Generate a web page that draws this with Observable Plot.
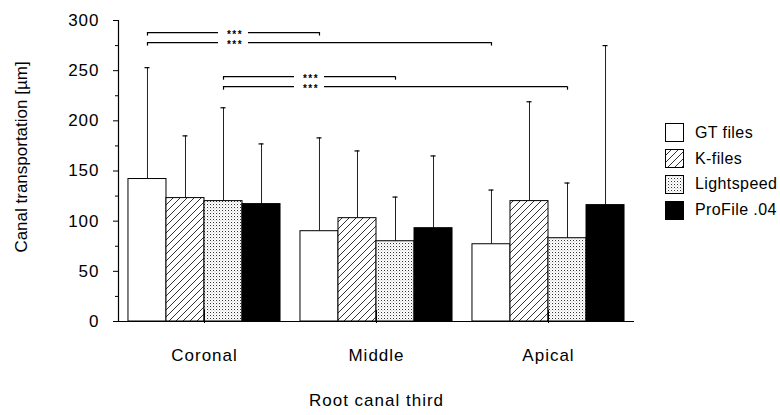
<!DOCTYPE html>
<html><head><meta charset="utf-8">
<script src="https://cdn.jsdelivr.net/npm/d3@7"></script>
<script src="https://cdn.jsdelivr.net/npm/@observablehq/plot@0.6"></script>
<style>
body{margin:0;background:#fff;font-family:"Liberation Sans",Arial,Helvetica,sans-serif}
#wrap{position:relative;width:780px;height:415px;overflow:hidden}
#legend{position:absolute;left:665px;top:120px;font-size:16px;letter-spacing:0.4px;color:#000}
.row{display:flex;align-items:center;height:25.8px}
.row svg{margin-right:11px;display:block}
#wrap svg [aria-label="x-axis tick label"],
#wrap svg [aria-label="x-axis label"],
#wrap svg [aria-label="y-axis tick label"]{letter-spacing:1px}
#wrap svg g[aria-label="text"][font-size="10"]{letter-spacing:1.5px}
</style></head><body><div id="wrap"></div>
<script>
// ---- data ----
const groups = ["Coronal", "Middle", "Apical"];
const series = ["GT files", "K-files", "Lightspeed", "ProFile .04"];
const gtMean = [142, 90, 77];
const kMean = [123, 103, 120];
const lsMean = [120, 80, 83];
const pfMean = [117, 93, 116];
const gtSD = [111, 93, 54];
const kSD = [62, 67, 99];
const lsSD = [93, 44, 55];
const pfSD = [60, 72, 159];
const yTicks = [0, 50, 100, 150, 200, 250, 300];
const yMinorTicks = [25, 75, 125, 175, 225, 275];
const bracketSeries = ["GT files", "GT files", "Lightspeed", "Lightspeed"];
const bracketFrom = ["Coronal", "Coronal", "Coronal", "Coronal"];
const bracketTo = ["Middle", "Apical", "Middle", "Apical"];
const bracketLevel = [288, 278, 244, 234];
const bracketLabel = ["***", "***", "***", "***"];
const yTitle = "Canal transportation [µm]";
const xTitle = "Root canal third";

const fills = ["white", "url(#hatch)", "url(#dots)", "black"];
const W = 0.221; // bar width as a fraction of group step
const xDomain = [-0.5, 2.5];
const means = [gtMean, kMean, lsMean, pfMean];
const sds = [gtSD, kSD, lsSD, pfSD];

const off = si => (si - 1.5) * W;
const rows = [];
groups.forEach((g, gi) => series.forEach((s, si) => rows.push({
  group: g, series: s, mean: means[si][gi], sd: sds[si][gi], cx: gi + off(si)
})));
const brackets = bracketSeries.map((s, i) => {
  const si = series.indexOf(s), a = groups.indexOf(bracketFrom[i]), b = groups.indexOf(bracketTo[i]);
  return {x1: a + off(si), x2: b + off(si), xm: a + 0.5 + off(si), level: bracketLevel[i], label: bracketLabel[i]};
});
const bracketEnds = brackets.flatMap(b => [{x: b.x1, level: b.level}, {x: b.x2, level: b.level}]);

const defs = () => {
  const s = d3.create("svg:defs");
  const h = s.append("pattern").attr("id", "hatch").attr("patternUnits", "userSpaceOnUse")
    .attr("width", 7).attr("height", 7);
  h.append("rect").attr("width", 7).attr("height", 7).attr("fill", "white");
  h.append("path").attr("d", "M-1,8 L8,-1 M-4,4 L4,-4 M3,11 L11,3").attr("stroke", "black").attr("stroke-width", 0.8);
  const p = s.append("pattern").attr("id", "dots").attr("patternUnits", "userSpaceOnUse")
    .attr("width", 3).attr("height", 3);
  p.append("rect").attr("width", 3).attr("height", 3).attr("fill", "white");
  p.append("rect").attr("x", 0).attr("y", 0).attr("width", 1).attr("height", 1).attr("fill", "#333");
  p.append("rect").attr("x", 1.5).attr("y", 1.5).attr("width", 0.8).attr("height", 0.8).attr("fill", "#888");
  return s.node();
};

const chart = Plot.plot({
  width: 780, height: 415,
  marginLeft: 118, marginRight: 146, marginTop: 20, marginBottom: 94,
  style: {fontFamily: '"Liberation Sans", Arial, Helvetica, sans-serif', fontSize: "17px", color: "black", background: "white"},
  x: {domain: xDomain},
  y: {domain: [0, 300]},
  color: {type: "ordinal", domain: series, range: fills},
  marks: [
    defs,
    Plot.ruleX(rows, {x: "cx", y1: "mean", y2: d => d.mean + d.sd, stroke: "#222", strokeWidth: 1}),
    Plot.ruleY(rows, {x1: "cx", x2: "cx", y: d => d.mean + d.sd, insetLeft: -2.5, insetRight: -2.5, stroke: "black", strokeWidth: 1.2}),
    Plot.rectY(rows, {x1: d => d.cx - W / 2, x2: d => d.cx + W / 2, y: "mean", fill: "series", stroke: "black", strokeWidth: 1}),
    Plot.ruleY([0], {stroke: "black", strokeWidth: 1.2}),
    Plot.ruleX([xDomain[0]], {stroke: "black", strokeWidth: 1.2}),
    Plot.ruleX(groups, {x: (d, i) => i, y1: 0, y2: 0, insetTop: -11, insetBottom: -2, stroke: "black"}),
    Plot.ruleY(brackets, {x1: "x1", x2: "xm", y: "level", insetRight: 15, stroke: "black", strokeWidth: 1.2}),
    Plot.ruleY(brackets, {x1: "xm", x2: "x2", y: "level", insetLeft: 15, stroke: "black", strokeWidth: 1.2}),
    Plot.ruleX(bracketEnds, {x: "x", y1: "level", y2: "level", insetBottom: -3.5, stroke: "black", strokeWidth: 1.2}),
    Plot.text(brackets, {x: "xm", y: "level", text: "label", fontSize: 10, fontWeight: "bold", dy: 2.5, dx: 1.5, fill: "black"}),
    Plot.axisY({ticks: yTicks, tickSize: 5, tickPadding: 14, fontSize: 17, label: null}),
    Plot.axisY({ticks: yMinorTicks, tickSize: 3, tickFormat: () => "", label: null}),
    Plot.text([yTitle], {frameAnchor: "left", textAnchor: "middle", lineAnchor: "middle", rotate: -90, dx: -97, dy: -14, fontSize: 17, fill: "black"}),
    Plot.axisX({ticks: [0, 1, 2], tickFormat: i => groups[i], tickSize: 0, tickPadding: 27, fontSize: 17,
      label: xTitle, labelAnchor: "center", labelArrow: "none", labelOffset: 84})
  ]
});

const wrap = document.getElementById("wrap");
wrap.appendChild(chart);

const legend = document.createElement("div");
legend.id = "legend";
series.forEach((s, i) => {
  const row = document.createElement("div");
  row.className = "row";
  row.innerHTML = `<svg width="19" height="19"><rect x="0.5" y="0.5" width="18" height="18" fill="${fills[i]}" stroke="black" stroke-width="1"/></svg><span>${s}</span>`;
  legend.appendChild(row);
});
wrap.appendChild(legend);
</script>
</body></html>
